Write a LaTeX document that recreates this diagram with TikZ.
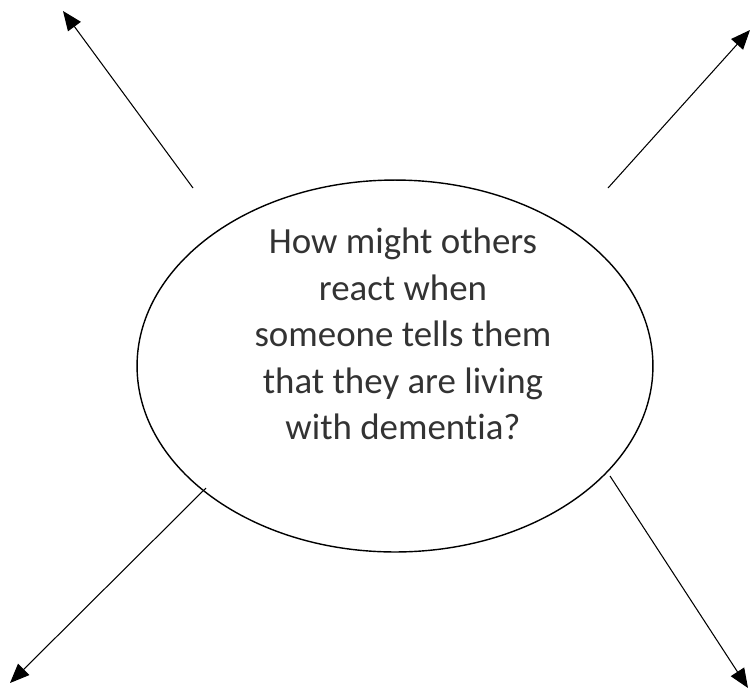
\documentclass[tikz,border=0pt]{standalone}
\usepackage{fontspec}
\setmainfont{Carlito}[Ligatures={NoCommon}]
\usetikzlibrary{shapes.geometric, arrows.meta, positioning}

\begin{document}
\begin{tikzpicture}[x=0.02cm, y=-0.02cm,
	bubble/.style={draw, ellipse, line width=0.8pt, minimum width=10.32cm, minimum height=7.44cm, inner sep=0pt},
	question/.style={align=center, font=\fontsize{21}{26.4}\selectfont, text=black!80},
	spoke/.style={-{Triangle[length=11pt, width=9pt]}, line width=0.6pt}]
	\useasboundingbox (0,0) rectangle (751,691);
	
	\node[bubble](q) at (395,366) {};
	\node[question](txt) at (403,334) {How might others\\react when\\someone tells them\\that they are living\\with dementia?};
	
	%% start points on the ellipse, free ends at the corners
	\coordinate (tls) at (193,188);	\coordinate (tle) at (63,11);
	\coordinate (trs) at (608,188);	\coordinate (tre) at (750,30);
	\coordinate (bls) at (206,488);	\coordinate (ble) at (10,683);
	\coordinate (brs) at (610,476);	\coordinate (bre) at (748,688);
	
	\draw[spoke] (tls) -- (tle);
	\draw[spoke] (trs) -- (tre);
	\draw[spoke] (bls) -- (ble);
	\draw[spoke] (brs) -- (bre);
\end{tikzpicture}
\end{document}
